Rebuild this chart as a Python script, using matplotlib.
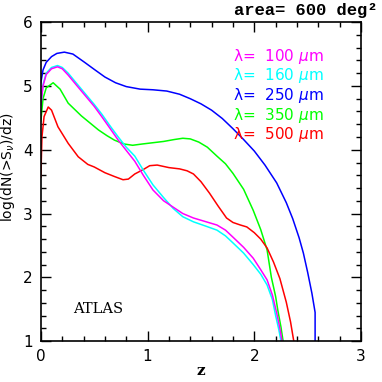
import matplotlib
matplotlib.use('Agg')
import matplotlib.pyplot as plt
from matplotlib.ticker import MultipleLocator

# redshift distributions, log(dN(>S)/dz)
z_250 = [0, 0.02, 0.05, 0.1, 0.15, 0.22, 0.3, 0.41, 0.5, 0.6, 0.7, 0.8, 0.93, 1.05,
         1.18, 1.3, 1.4, 1.5, 1.6, 1.7, 1.8, 1.9, 2.0, 2.1, 2.21, 2.3, 2.36, 2.42,
         2.46, 2.5, 2.54, 2.57, 2.57]
y_250 = [5.05, 5.25, 5.37, 5.46, 5.51, 5.53, 5.5, 5.37, 5.26, 5.14, 5.05, 4.99, 4.95, 4.94,
         4.92, 4.87, 4.8, 4.72, 4.62, 4.49, 4.33, 4.16, 3.98, 3.76, 3.48, 3.17, 2.92, 2.62,
         2.38, 2.08, 1.75, 1.45, 1.0]

z_100 = [0, 0.02, 0.05, 0.1, 0.156, 0.2, 0.256, 0.33, 0.41, 0.5, 0.57, 0.65, 0.725, 0.8,
         0.88, 0.96, 1.05, 1.15, 1.24, 1.33, 1.43, 1.55, 1.65, 1.73, 1.8, 1.9, 1.99,
         2.06, 2.12, 2.17, 2.21, 2.24, 2.26]
y_100 = [4.7, 5.0, 5.18, 5.27, 5.3, 5.27, 5.17, 5.02, 4.86, 4.68, 4.52, 4.33, 4.15, 3.99,
         3.82, 3.6, 3.37, 3.2, 3.1, 3.0, 2.93, 2.87, 2.82, 2.74, 2.63, 2.47, 2.3,
         2.12, 1.96, 1.72, 1.44, 1.2, 1.0]

z_160 = [0, 0.02, 0.05, 0.1, 0.156, 0.2, 0.256, 0.33, 0.41, 0.5, 0.57, 0.65, 0.725, 0.8,
         0.88, 0.96, 1.05, 1.15, 1.24, 1.33, 1.43, 1.55, 1.65, 1.73, 1.8, 1.9, 1.99,
         2.06, 2.12, 2.17, 2.2, 2.23, 2.25]
y_160 = [4.7, 5.02, 5.2, 5.29, 5.32, 5.29, 5.2, 5.05, 4.89, 4.71, 4.56, 4.37, 4.2, 4.04,
         3.9, 3.68, 3.45, 3.25, 3.08, 2.95, 2.87, 2.8, 2.74, 2.65, 2.54, 2.38, 2.2,
         2.05, 1.88, 1.65, 1.4, 1.18, 1.0]

z_350 = [0, 0.02, 0.05, 0.115, 0.18, 0.256, 0.38, 0.46, 0.54, 0.62, 0.69, 0.78, 0.86, 0.95,
         1.05, 1.15, 1.25, 1.33, 1.4, 1.48, 1.56, 1.65, 1.73, 1.8, 1.9, 1.99, 2.06,
         2.12, 2.16, 2.2, 2.22, 2.25, 2.27]
y_350 = [4.45, 4.8, 4.97, 5.05, 4.95, 4.73, 4.53, 4.42, 4.31, 4.22, 4.15, 4.09, 4.07, 4.09,
         4.11, 4.13, 4.16, 4.18, 4.17, 4.12, 4.04, 3.9, 3.78, 3.63, 3.38, 3.05, 2.75,
         2.43, 2.0, 1.7, 1.49, 1.22, 1.0]

z_500 = [0, 0.01, 0.03, 0.069, 0.1, 0.16, 0.256, 0.35, 0.44, 0.5, 0.6, 0.69, 0.77, 0.82,
         0.88, 0.96, 1.02, 1.09, 1.2, 1.3, 1.37, 1.43, 1.5, 1.58, 1.66, 1.74, 1.8, 1.87,
         1.93, 2.0, 2.06, 2.12, 2.18, 2.24, 2.3, 2.34, 2.37]
y_500 = [3.57, 4.2, 4.52, 4.67, 4.62, 4.36, 4.1, 3.89, 3.77, 3.73, 3.64, 3.58, 3.53, 3.54,
         3.62, 3.69, 3.75, 3.76, 3.72, 3.7, 3.67, 3.62, 3.5, 3.32, 3.12, 2.93, 2.86, 2.82,
         2.79, 2.7, 2.6, 2.46, 2.24, 1.98, 1.61, 1.3, 1.0]

bands = ['100', '160', '250', '350', '500']
colors = ['#ff00ff', '#00ffff', '#0000ff', '#00ff00', '#ff0000']
curves = {'100': (z_100, y_100), '160': (z_160, y_160), '250': (z_250, y_250),
          '350': (z_350, y_350), '500': (z_500, y_500)}

fig = plt.figure(figsize=(3.82, 3.82), dpi=100)
ax = fig.add_axes([0.107, 0.107, 0.838, 0.835])

# draw order: blue, green, red, cyan, magenta on top
for b in ['250', '350', '500', '160', '100']:
    z, y = curves[b]
    ax.plot(z, y, color=colors[bands.index(b)], lw=1.1)

ax.set_xlim(0, 3)
ax.set_ylim(1, 6)
ax.xaxis.set_major_locator(MultipleLocator(1))
ax.xaxis.set_minor_locator(MultipleLocator(0.2))
ax.yaxis.set_major_locator(MultipleLocator(1))
ax.yaxis.set_minor_locator(MultipleLocator(0.2))
ax.tick_params(which='both', direction='in', top=True, right=True, width=1.0,
               labelsize=11)
ax.tick_params(which='major', length=7.5, pad=6)
ax.tick_params(which='minor', length=3.8)
for s in ax.spines.values():
    s.set_linewidth(1.2)

ax.set_xlabel('z', family='DejaVu Serif', fontsize=11, fontweight='bold', labelpad=0)
ax.set_ylabel(r'log(dN(>S$_\nu$)/dz)', fontsize=10)
ax.yaxis.set_label_coords(-0.075, 0.545)

for i, b in enumerate(bands):
    ax.text(0.601, 0.893 - i * 0.0615, u'\u03bb=  ' + b + r' $\mu$m', color=colors[i],
            fontsize=11, transform=ax.transAxes, va='center')

ax.text(0.1, 0.1, 'ATLAS', family='DejaVu Serif', fontsize=10.5,
        transform=ax.transAxes, va='center')

fig.text(0.987, 0.972, u'area= 600 deg\u00b2', family='Liberation Mono',
         fontweight='bold', fontsize=12.3, ha='right', va='center')

fig.savefig('out.png', dpi=100)
